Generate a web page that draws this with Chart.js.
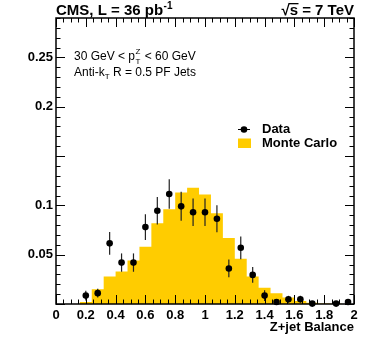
<!DOCTYPE html>
<html>
<head>
<meta charset="utf-8">
<script src="https://cdn.jsdelivr.net/npm/chart.js@4.4.1/dist/chart.umd.min.js"></script>
<style>
  html, body { margin: 0; padding: 0; background: #fff; }
  #wrap { width: 374px; height: 359px; }
</style>
</head>
<body>
<div id="wrap"><canvas id="chart-balance"></canvas></div>
<script>
// histogram bin edges (Z+jet balance) and MC yield per bin
const binEdges = [0, 0.08, 0.16, 0.24, 0.32, 0.40, 0.48, 0.56, 0.64, 0.72, 0.80, 0.88, 0.96,
                  1.04, 1.12, 1.20, 1.28, 1.36, 1.44, 1.52, 1.60, 1.68, 1.76, 1.84, 1.92, 2.00];
const mcValues = [0, 0, 0.002, 0.015, 0.028, 0.033, 0.044, 0.058, 0.082, 0.096, 0.113, 0.118, 0.111,
                  0.092, 0.067, 0.046, 0.028, 0.0165, 0.011, 0.0065, 0.003, 0.0012, 0.0005, 0.0002, 0];

// data points (bin centres), values and vertical errors
const dataCenters = [0.20, 0.28, 0.36, 0.44, 0.52, 0.60, 0.68, 0.76, 0.84, 0.92, 1.00,
                     1.08, 1.16, 1.24, 1.32, 1.40, 1.48, 1.56, 1.64, 1.72, 1.88, 1.96];
const dataValues = [0.0085, 0.011, 0.0615, 0.042, 0.042, 0.078, 0.0945, 0.1115, 0.0990, 0.093, 0.093,
                    0.0865, 0.036, 0.057, 0.0295, 0.0085, 0.002, 0.0048, 0.0048, 0.0004, 0.0004, 0.002];
const dataErrors = [0.005, 0.0045, 0.0115, 0.0093, 0.0093, 0.013, 0.014, 0.015, 0.0147, 0.014, 0.014,
                    0.0137, 0.009, 0.0115, 0.008, 0.0054, 0.003, 0.0035, 0.0035, 0.0012, 0.0012, 0.002];

const xTickLabels = ['0', '0.2', '0.4', '0.6', '0.8', '1', '1.2', '1.4', '1.6', '1.8', '2'];
const yTickValues = [0.05, 0.1, 0.2, 0.25];
const yTickLabels = ['0.05', '0.1', '0.2', '0.25'];

const MC_YELLOW = '#ffcc00';
const FONT = '"Liberation Sans", Arial, Helvetica, sans-serif';
Chart.defaults.font.family = FONT;
Chart.defaults.color = '#000';

// error bars under the data markers
const errorBars = {
    id: 'errorBars',
    beforeDatasetDraw(chart, args) {
        if (args.index !== 1) return;
        const { ctx, scales: { x, y } } = chart;
        ctx.save();
        ctx.strokeStyle = '#222';
        ctx.lineWidth = 1.2;
        dataCenters.forEach((c, i) => {
            const px = x.getPixelForValue(c);
            const lo = Math.max(0, dataValues[i] - dataErrors[i]);
            ctx.beginPath();
            ctx.moveTo(px, y.getPixelForValue(lo));
            ctx.lineTo(px, y.getPixelForValue(dataValues[i] + dataErrors[i]));
            ctx.stroke();
        });
        ctx.restore();
    }
};

// ROOT-like frame with inward ticks on all four sides
const frameTicks = {
    id: 'frameTicks',
    afterDraw(chart) {
        const ctx = chart.ctx;
        const a = chart.chartArea;
        const xs = chart.scales.x;
        const ys = chart.scales.y;
        ctx.save();
        ctx.fillStyle = '#000';
        for (let i = 0; i <= 40; i++) {
            const px = Math.round(xs.getPixelForValue(i * 0.05));
            const len = i % 4 === 0 ? 9 : 4.5;
            ctx.fillRect(px, a.bottom - len, 1, len);
            ctx.fillRect(px, a.top, 1, len);
        }
        for (let i = 0; i <= 29; i++) {
            const py = Math.round(ys.getPixelForValue(i * 0.01));
            const len = i % 5 === 0 ? 9 : 4.5;
            ctx.fillRect(a.left, py, len, 1);
            ctx.fillRect(a.right - len, py, len, 1);
        }
        ctx.strokeStyle = '#000';
        ctx.lineWidth = 1.5;
        ctx.strokeRect(a.left, a.top, a.right - a.left, a.bottom - a.top);
        ctx.restore();
    }
};

// header, annotations and legend
const labels = {
    id: 'labels',
    afterDraw(chart) {
        const { ctx, chartArea: a } = chart;
        ctx.save();
        ctx.fillStyle = '#000';
        ctx.textBaseline = 'alphabetic';

        // header left
        ctx.font = 'bold 15px ' + FONT;
        ctx.textAlign = 'left';
        const head = 'CMS, L = 36 pb';
        ctx.fillText(head, a.left, 15);
        const hw = ctx.measureText(head).width;
        ctx.font = 'bold 10px ' + FONT;
        ctx.fillText('-1', a.left + hw + 0.5, 9);

        // header right
        ctx.font = 'bold 15px ' + FONT;
        ctx.textAlign = 'right';
        const rest = ' = 7 TeV';
        ctx.fillText(rest, a.right, 15);
        const rw = ctx.measureText(rest).width;
        const sw = ctx.measureText('s').width;
        ctx.fillText('s', a.right - rw, 15);
        ctx.fillText('\u221A', a.right - rw - sw, 15);
        ctx.fillRect(a.right - rw - sw - 1, 3, sw + 1.5, 1.3);

        // annotations
        ctx.textAlign = 'left';
        let xx = 74;
        ctx.font = '12px ' + FONT;
        ctx.fillText('30 GeV < p', xx, 60);
        xx += ctx.measureText('30 GeV < p').width + 0.5;
        ctx.font = '8px ' + FONT;
        ctx.fillText('Z', xx, 54);
        ctx.fillText('T', xx, 64);
        xx += ctx.measureText('Z').width + 1;
        ctx.font = '12px ' + FONT;
        ctx.fillText(' < 60 GeV', xx, 60);

        xx = 74;
        ctx.fillText('Anti-k', xx, 76);
        xx += ctx.measureText('Anti-k').width;
        ctx.font = '8px ' + FONT;
        ctx.fillText('T', xx, 79);
        xx += ctx.measureText('T').width;
        ctx.font = '12px ' + FONT;
        ctx.fillText(' R = 0.5 PF Jets', xx, 76);

        // legend
        ctx.strokeStyle = '#000';
        ctx.lineWidth = 1;
        ctx.beginPath();
        ctx.moveTo(238, 129.5); ctx.lineTo(250, 129.5);
        ctx.stroke();
        ctx.beginPath();
        ctx.arc(244, 129.5, 3.3, 0, Math.PI * 2);
        ctx.fill();
        ctx.fillStyle = MC_YELLOW;
        ctx.fillRect(238, 138.5, 13, 9.5);
        ctx.fillStyle = '#000';
        ctx.font = 'bold 13px ' + FONT;
        ctx.textBaseline = 'middle';
        ctx.fillText('Data', 262, 129.5);
        ctx.fillText('Monte Carlo', 262, 143.5);
        ctx.restore();
    }
};

const mcPoints = binEdges.map((e, i) => ({ x: e, y: mcValues[Math.min(i, mcValues.length - 1)] }));
const dataPoints = dataCenters.map((c, i) => ({ x: c, y: dataValues[i] }));

new Chart(document.getElementById('chart-balance'), {
    type: 'line',
    data: {
        datasets: [{
            label: 'Monte Carlo',
            data: mcPoints,
            order: 2,
            stepped: 'before',
            fill: 'origin',
            backgroundColor: MC_YELLOW,
            borderColor: 'rgba(0,0,0,0)',
            borderWidth: 0,
            pointRadius: 0
        }, {
            label: 'Data',
            data: dataPoints,
            order: 1,
            showLine: false,
            pointRadius: 3.3,
            pointBackgroundColor: '#000',
            pointBorderWidth: 0,
            clip: false
        }]
    },
    options: {
        responsive: true,
        maintainAspectRatio: false,
        animation: false,
        layout: { padding: { top: 18, right: 20, left: 0, bottom: 0 } },
        plugins: { legend: { display: false }, tooltip: { enabled: false } },
        scales: {
            x: {
                type: 'linear',
                min: 0,
                max: 2,
                grid: { display: false, drawTicks: false },
                border: { display: false },
                ticks: {
                    stepSize: 0.2,
                    padding: 4,
                    maxRotation: 0,
                    autoSkip: false,
                    font: { weight: 'bold', size: 13 },
                    callback: (v, i) => xTickLabels[i]
                },
                title: {
                    display: true,
                    text: 'Z+jet Balance',
                    align: 'end',
                    font: { weight: 'bold', size: 13 },
                    padding: { top: 0, bottom: 24 }
                },
                afterFit(scale) { scale.height = 55; }
            },
            y: {
                min: 0,
                max: 0.29,
                grid: { display: false, drawTicks: false },
                border: { display: false },
                ticks: {
                    stepSize: 0.05,
                    padding: 3,
                    autoSkip: false,
                    font: { weight: 'bold', size: 13 },
                    callback: (v) => {
                        const k = yTickValues.findIndex(t => Math.abs(t - v) < 1e-6);
                        return k >= 0 ? yTickLabels[k] : '';
                    }
                },
                afterFit(scale) { scale.width = 56; }
            }
        }
    },
    plugins: [errorBars, frameTicks, labels]
});
</script>
</body>
</html>
